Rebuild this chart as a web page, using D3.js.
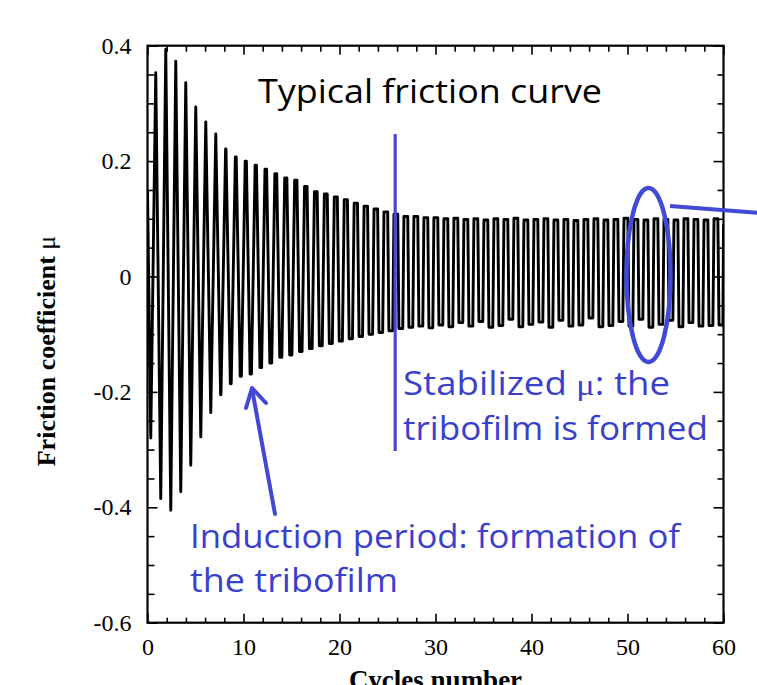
<!DOCTYPE html>
<html>
<head>
<meta charset="utf-8">
<script src="https://cdn.jsdelivr.net/npm/d3@7/dist/d3.min.js"></script>
<style>
  body { margin: 0; background: #fff; }
  svg { display: block; }
</style>
</head>
<body>
<div id="chart"></div>
<script>
// Friction coefficient oscillation
// one top (high) per oscillation, each preceded by a bottom (low)
const highs = [
  0.353, 0.394, 0.373, 0.336, 0.294, 0.268, 0.247, 0.221, 0.207, 0.200,
  0.193, 0.186, 0.178, 0.171, 0.167, 0.156, 0.147, 0.143, 0.138, 0.133,
  0.127, 0.122, 0.117, 0.112, 0.108, 0.104, 0.104, 0.102, 0.102, 0.100,
  0.101, 0.099, 0.100, 0.098, 0.100, 0.099, 0.101, 0.098, 0.099, 0.100,
  0.098, 0.099, 0.097, 0.099, 0.100, 0.098, 0.099, 0.101, 0.099, 0.098,
  0.100, 0.099, 0.098, 0.100, 0.099, 0.098, 0.100
];
const lows = [
  -0.280, -0.385, -0.405, -0.373, -0.327, -0.278, -0.236, -0.205, -0.186, -0.173,
  -0.169, -0.158, -0.150, -0.140, -0.136, -0.130, -0.125, -0.120, -0.116, -0.112,
  -0.108, -0.104, -0.100, -0.097, -0.094, -0.090, -0.088, -0.086, -0.089, -0.084,
  -0.087, -0.080, -0.086, -0.078, -0.088, -0.085, -0.074, -0.087, -0.083, -0.079,
  -0.088, -0.076, -0.086, -0.084, -0.072, -0.087, -0.085, -0.078, -0.086, -0.074,
  -0.088, -0.083, -0.076, -0.087, -0.080, -0.086, -0.085, -0.084
];
const startValue = 0.15;   // mu at cycle 0
const endValue = 0.09;     // mu at cycle 60
const firstTop = 0.86;     // cycle of the first top
const period = 1.042;      // cycles between tops

const xTicksMajor = [0, 10, 20, 30, 40, 50, 60];
const yTicksMajor = [-0.6, -0.4, -0.2, 0, 0.2, 0.4];
const yTickLabels = ['-0.6', '-0.4', '-0.2', '0', '0.2', '0.4'];
const stableAt = 25.8;     // cycle of the blue marker line

const W = 757, H = 685;
const mLeft = 147.5, mRight = 723.5, mTop = 45.7, mBottom = 622.7;
const blue = '#4149d6';
const blueText = '#3a3fcc';
const comic = "'Comic Sans MS', 'Open Sans', sans-serif";
const serif = "'Times New Roman', 'Liberation Serif', serif";

const svg = d3.select('#chart').append('svg')
  .attr('width', W).attr('height', H)
  .attr('viewBox', `0 0 ${W} ${H}`);

const x = d3.scaleLinear().domain([0, 60]).range([mLeft, mRight]);
const y = d3.scaleLinear().domain([-0.6, 0.4]).range([mBottom, mTop]);

// Build the waveform: big swings are sharp spikes, small swings
// get short flat tops/bottoms (square-ish shape of the stable regime)
const flat = d3.scaleLinear().domain([0.45, 0.2]).range([0, 0.2]).clamp(true);
const pts = [[0, startValue]];
highs.forEach((h, k) => {
  const tTop = firstTop + k * period;
  const tLow = tTop - period / 2;
  const w = flat(h - lows[k]);
  pts.push([tLow - w, lows[k]], [tLow + w, lows[k]]);
  pts.push([tTop - w, h], [tTop + w, h]);
});
const tLast = firstTop + (highs.length - 1) * period + period / 2;
const wLast = flat(highs[highs.length - 1] - lows[lows.length - 1]);
pts.push([tLast - wLast, lows[lows.length - 1]], [tLast + wLast, lows[lows.length - 1]]);
pts.push([60, endValue]);

svg.append('defs').append('clipPath').attr('id', 'plot-clip')
  .append('rect')
  .attr('x', mLeft).attr('y', mTop)
  .attr('width', mRight - mLeft).attr('height', mBottom - mTop);

const line = d3.line()
  .x(d => x(Math.max(0, Math.min(60, d[0]))))
  .y(d => y(d[1]));

svg.append('path')
  .datum(pts)
  .attr('clip-path', 'url(#plot-clip)')
  .attr('fill', 'none')
  .attr('stroke', '#000')
  .attr('stroke-width', 2.9)
  .attr('stroke-linejoin', 'round')
  .attr('d', line);

// Axes (ticks pointing inward on all four sides)
const xMinor = d3.range(0, 61, 2).filter(v => v % 10 !== 0);
const yMinor = d3.range(-0.6, 0.401, 0.05).filter(v => Math.abs(Math.round(v * 100)) % 20 !== 0);

function styleAxis(g) {
  g.select('.domain').remove();
  g.selectAll('line').attr('stroke', '#000').attr('stroke-width', 1.6);
  g.selectAll('text')
    .attr('fill', '#000')
    .attr('font-family', serif)
    .attr('font-size', 24);
}

svg.append('g').attr('transform', `translate(0,${mBottom})`)
  .call(d3.axisBottom(x).tickValues(xTicksMajor).tickSize(-9).tickPadding(15).tickFormat(d3.format('d')))
  .call(styleAxis);
svg.append('g').attr('transform', `translate(0,${mBottom})`)
  .call(d3.axisBottom(x).tickValues(xMinor).tickSize(-5).tickFormat(''))
  .call(styleAxis);
svg.append('g').attr('transform', `translate(0,${mTop})`)
  .call(d3.axisTop(x).tickValues(xTicksMajor).tickSize(-9).tickFormat(''))
  .call(styleAxis);
svg.append('g').attr('transform', `translate(0,${mTop})`)
  .call(d3.axisTop(x).tickValues(xMinor).tickSize(-6).tickFormat(''))
  .call(styleAxis);

svg.append('g').attr('transform', `translate(${mLeft},0)`)
  .call(d3.axisLeft(y).tickValues(yTicksMajor).tickSize(-10).tickPadding(16)
    .tickFormat((d, i) => yTickLabels[i]))
  .call(styleAxis);
svg.append('g').attr('transform', `translate(${mLeft},0)`)
  .call(d3.axisLeft(y).tickValues(yMinor).tickSize(-7).tickFormat(''))
  .call(styleAxis);
svg.append('g').attr('transform', `translate(${mRight},0)`)
  .call(d3.axisRight(y).tickValues(yTicksMajor).tickSize(-10).tickFormat(''))
  .call(styleAxis);
svg.append('g').attr('transform', `translate(${mRight},0)`)
  .call(d3.axisRight(y).tickValues(yMinor).tickSize(-6).tickFormat(''))
  .call(styleAxis);

// Frame
svg.append('rect')
  .attr('x', mLeft).attr('y', mTop)
  .attr('width', mRight - mLeft).attr('height', mBottom - mTop)
  .attr('fill', 'none').attr('stroke', '#000').attr('stroke-width', 2.2);

// Axis titles
const yTitle = svg.append('text')
  .attr('transform', 'translate(55,351) rotate(-90)')
  .attr('text-anchor', 'middle')
  .attr('font-family', serif).attr('font-weight', 'bold').attr('font-size', 26)
  .attr('fill', '#000');
yTitle.append('tspan').text('Friction coefficient ');
yTitle.append('tspan').attr('font-weight', 'normal').text('μ');

svg.append('text')
  .attr('x', (mLeft + mRight) / 2).attr('y', 689)
  .attr('text-anchor', 'middle')
  .attr('font-family', serif).attr('font-weight', 'bold').attr('font-size', 27)
  .attr('fill', '#000')
  .text('Cycles number');

// Title inside the plot
svg.append('text')
  .attr('x', 258).attr('y', 103)
  .attr('font-family', comic).attr('font-size', 32).attr('fill', '#000')
  .attr('textLength', 344).attr('lengthAdjust', 'spacingAndGlyphs')
  .text('Typical friction curve');

// Stabilized marker line + label
svg.append('line')
  .attr('x1', x(stableAt)).attr('x2', x(stableAt))
  .attr('y1', 134).attr('y2', 451)
  .attr('stroke', blue).attr('stroke-width', 3.2);

const stab = svg.append('text')
  .attr('x', 403).attr('y', 395)
  .attr('font-family', comic).attr('font-size', 32).attr('fill', blueText)
  .attr('textLength', 267).attr('lengthAdjust', 'spacingAndGlyphs');
stab.append('tspan').text('Stabilized ');
stab.append('tspan').attr('font-family', serif).attr('font-size', 30).text('μ');
stab.append('tspan').text(': the');

svg.append('text')
  .attr('x', 403).attr('y', 440)
  .attr('font-family', comic).attr('font-size', 32).attr('fill', blueText)
  .attr('textLength', 305).attr('lengthAdjust', 'spacingAndGlyphs')
  .text('tribofilm is formed');

// Induction period arrow + label
svg.append('line')
  .attr('x1', 275).attr('y1', 514)
  .attr('x2', 252).attr('y2', 389)
  .attr('stroke', blue).attr('stroke-width', 4).attr('stroke-linecap', 'round');
svg.append('polyline')
  .attr('points', '246,408 252,388 266,403')
  .attr('fill', 'none').attr('stroke', blue).attr('stroke-width', 4)
  .attr('stroke-linecap', 'round').attr('stroke-linejoin', 'round');

svg.append('text')
  .attr('x', 190).attr('y', 548)
  .attr('font-family', comic).attr('font-size', 32).attr('fill', blueText)
  .attr('textLength', 490).attr('lengthAdjust', 'spacingAndGlyphs')
  .text('Induction period: formation of');
svg.append('text')
  .attr('x', 190).attr('y', 592)
  .attr('font-family', comic).attr('font-size', 32).attr('fill', blueText)
  .attr('textLength', 208).attr('lengthAdjust', 'spacingAndGlyphs')
  .text('the tribofilm');

// Zoom ellipse with pointer leaving the frame
svg.append('ellipse')
  .attr('cx', 648.5).attr('cy', 275)
  .attr('rx', 22).attr('ry', 87)
  .attr('fill', 'none').attr('stroke', blue).attr('stroke-width', 4.5);
svg.append('line')
  .attr('x1', 670).attr('y1', 206)
  .attr('x2', 760).attr('y2', 213)
  .attr('stroke', blue).attr('stroke-width', 4);
</script>
</body>
</html>
